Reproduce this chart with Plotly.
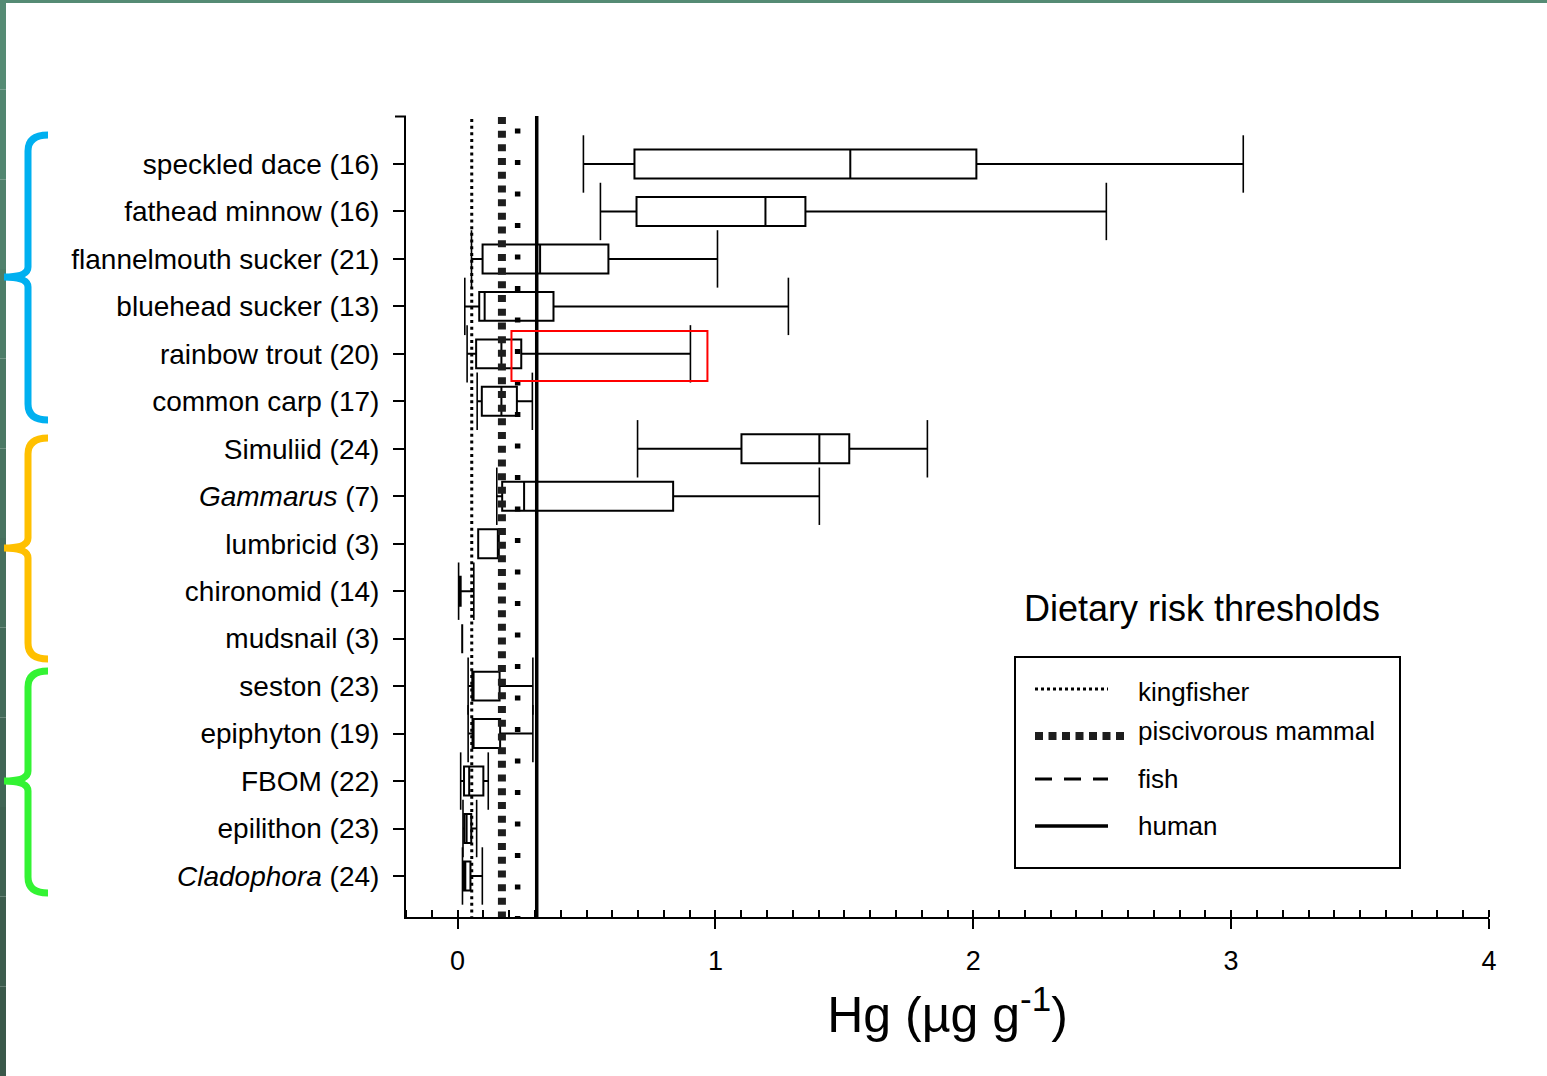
import plotly.graph_objects as go

# ---------------- data ----------------
categories = ["speckled dace (16)", "fathead minnow (16)", "flannelmouth sucker (21)",
              "bluehead sucker (13)", "rainbow trout (20)", "common carp (17)",
              "Simuliid (24)", "<i>Gammarus</i> (7)", "lumbricid (3)", "chironomid (14)",
              "mudsnail (3)", "seston (23)", "epiphyton (19)", "FBOM (22)",
              "epilithon (23)", "<i>Cladophora</i> (24)"]
lows    = [0.488, 0.554, 0.054, 0.028, 0.037, 0.076, 0.698, 0.152, 0.080, 0.004, 0.018, 0.041, 0.041, 0.012, 0.021, 0.019]
q1s     = [0.686, 0.694, 0.097, 0.084, 0.072, 0.094, 1.101, 0.173, 0.080, 0.006, 0.018, 0.057, 0.058, 0.025, 0.026, 0.025]
medians = [1.523, 1.194, 0.320, 0.105, 0.170, 0.170, 1.403, 0.258, 0.158, 0.008, 0.018, 0.062, 0.062, 0.045, 0.035, 0.030]
q3s     = [2.012, 1.349, 0.585, 0.372, 0.247, 0.230, 1.519, 0.836, 0.160, 0.012, 0.018, 0.163, 0.165, 0.100, 0.053, 0.050]
highs   = [3.047, 2.516, 1.008, 1.283, 0.903, 0.290, 1.822, 1.403, 0.160, 0.063, 0.018, 0.292, 0.292, 0.119, 0.074, 0.096]

threshold_names  = ["kingfisher", "piscivorous mammal", "fish", "human"]
threshold_values = [0.055, 0.172, 0.233, 0.307]

x_ticks = [0, 1, 2, 3, 4]
highlight_x = [0.209, 0.969]   # red highlight around rainbow trout whisker
highlight_y = [3.52, 4.57]

# ---------------- layout geometry ----------------
W, H = 1547, 1076
L, R, T, B = 406, 1489, 116, 917
PW, PH = R - L, B - T
FONT = "Liberation Sans, Arial, sans-serif"


def px(x):
    return (x - L) / PW


def py(y):
    return (B - y) / PH


pos = list(range(len(categories)))
Y_RANGE = [15.864, -1.011]

fig = go.Figure()

fig.add_trace(go.Box(
    y=pos, q1=q1s, median=medians, q3=q3s, lowerfence=lows, upperfence=highs,
    orientation="h", width=0.61, whiskerwidth=0,
    fillcolor="white", line=dict(color="black", width=2),
    boxpoints=False, showlegend=False, hoverinfo="skip"))

# whisker caps
cap_x, cap_y = [], []
for i in pos:
    if lows[i] < q1s[i]:
        cap_x.append(lows[i]); cap_y.append(i)
    if highs[i] > q3s[i]:
        cap_x.append(highs[i]); cap_y.append(i)
fig.add_trace(go.Scatter(
    x=cap_x, y=cap_y, mode="markers", showlegend=False, hoverinfo="skip",
    marker=dict(symbol="line-ns", size=41, color="black",
                line=dict(color="black", width=1.6))))

# threshold lines
styles = {
    "kingfisher": dict(color="black", width=3, dash="3px,3.7px"),
    "piscivorous mammal": dict(color="#1e1e1e", width=8, dash="7px,6.7px"),
    "fish": dict(color="black", width=5.5, dash="5px,26.5px"),
    "human": dict(color="black", width=3.5, dash="solid"),
}
line_top = {"kingfisher": -1.09, "piscivorous mammal": -1.28, "fish": -0.75, "human": -1.25}
for name, v in zip(threshold_names, threshold_values):
    fig.add_trace(go.Scatter(x=[v, v], y=[line_top[name], Y_RANGE[0]], mode="lines",
                             line=styles[name], showlegend=False, hoverinfo="skip",
                             cliponaxis=False))

shapes = []
# top y-axis tick
shapes.append(dict(type="line", xref="paper", yref="paper", x0=px(395), x1=px(406),
                   y0=py(116.5), y1=py(116.5), line=dict(color="black", width=2)))
# red highlight
shapes.append(dict(type="rect", xref="x", yref="y", x0=highlight_x[0], x1=highlight_x[1],
                   y0=highlight_y[0], y1=highlight_y[1], line=dict(color="red", width=2),
                   fillcolor="rgba(0,0,0,0)", layer="above"))

# frame (slide border)
shapes.append(dict(type="rect", xref="paper", yref="paper", x0=px(0), x1=px(W), y0=py(0), y1=py(3),
                   line=dict(width=0), fillcolor="#558b74", layer="above"))
nseg = 12
for k in range(nseg):
    y0p = k * H / nseg
    y1p = (k + 1) * H / nseg
    t = k / (nseg - 1)
    r = int(0x55 + (0x3a - 0x55) * t)
    g = int(0x8b + (0x58 - 0x8b) * t)
    b = int(0x74 + (0x4a - 0x74) * t)
    shapes.append(dict(type="rect", xref="paper", yref="paper", x0=px(0), x1=px(6),
                       y0=py(y1p), y1=py(y0p), line=dict(width=0),
                       fillcolor=f"rgb({r},{g},{b})", layer="above"))


# braces
def brace(top, bottom, cusp, color):
    xv, xs, xt = 28, 48, 4
    pts = (f"M {px(xs)},{py(top)} Q {px(xv)},{py(top)} {px(xv)},{py(top + 16)} "
           f"L {px(xv)},{py(cusp - 10)} Q {px(xv)},{py(cusp)} {px(xt)},{py(cusp)} "
           f"Q {px(xv)},{py(cusp)} {px(xv)},{py(cusp + 10)} "
           f"L {px(xv)},{py(bottom - 16)} Q {px(xv)},{py(bottom)} {px(xs)},{py(bottom)}")
    return dict(type="path", xref="paper", yref="paper", path=pts,
                line=dict(color=color, width=7), fillcolor="rgba(0,0,0,0)", layer="above")


shapes.append(brace(135, 420, 277, "#00b0f0"))
shapes.append(brace(438, 659, 548, "#ffc000"))
shapes.append(brace(671, 893, 781, "#33f333"))

# legend box
shapes.append(dict(type="rect", xref="paper", yref="paper", x0=px(1015), x1=px(1400),
                   y0=py(868), y1=py(657), line=dict(color="black", width=2),
                   fillcolor="white", layer="above"))
leg_line_y = [689, 736, 779, 826]
leg_text_y = [692, 731, 779, 826]
leg_x1 = [1108, 1125, 1108, 1108]
annotations = []
for name, yl, yt, x1 in zip(threshold_names, leg_line_y, leg_text_y, leg_x1):
    st = dict(styles[name])
    if name == "piscivorous mammal":
        st["dash"] = "8px,5.5px"
    if name == "fish":
        st = dict(color="black", width=3, dash="17px,12px")
    if name == "kingfisher":
        st = dict(color="black", width=3, dash="3px,3px")
    shapes.append(dict(type="line", xref="paper", yref="paper", x0=px(1035), x1=px(x1),
                       y0=py(yl), y1=py(yl), line=st, layer="above"))
    annotations.append(dict(xref="paper", yref="paper", x=px(1136), y=py(yt), text=name,
                            showarrow=False, xanchor="left", yanchor="middle",
                            font=dict(family=FONT, size=26, color="black")))
annotations.append(dict(xref="paper", yref="paper", x=px(1202), y=py(608),
                        text="Dietary risk thresholds", showarrow=False,
                        xanchor="center", yanchor="middle",
                        font=dict(family=FONT, size=36, color="black")))

fig.update_layout(
    width=W, height=H,
    margin=dict(l=L, r=W - R, t=T, b=H - B, pad=0),
    paper_bgcolor="white", plot_bgcolor="white",
    shapes=shapes, annotations=annotations, showlegend=False,
    xaxis=dict(range=[-0.2, 4], tickvals=x_ticks, ticktext=[str(v) for v in x_ticks],
               showline=True, linecolor="black", linewidth=2, showgrid=False, zeroline=False,
               ticks="outside", ticklen=10, tickwidth=2, tickcolor="black",
               tickfont=dict(family="Liberation Sans Narrow, Arial Narrow, " + FONT, size=27, color="black"),
               ticklabelstandoff=9,
               minor=dict(ticks="inside", dtick=0.1, tick0=0, ticklen=7, tickwidth=1.5,
                          tickcolor="black", showgrid=False),
               title=dict(text="Hg (µg g<sup>-1</sup>)", standoff=22,
                          font=dict(family=FONT, size=50, color="black"))),
    yaxis=dict(range=Y_RANGE, tickvals=pos, ticktext=categories,
               showline=True, linecolor="black", linewidth=2, showgrid=False, zeroline=False,
               ticks="outside", ticklen=11, tickwidth=2, tickcolor="black",
               tickfont=dict(family=FONT, size=28, color="black"),
               ticklabelstandoff=8),
)

fig.write_html("out.html", config={"displayModeBar": False},
               post_script="document.body.style.margin='0';")
